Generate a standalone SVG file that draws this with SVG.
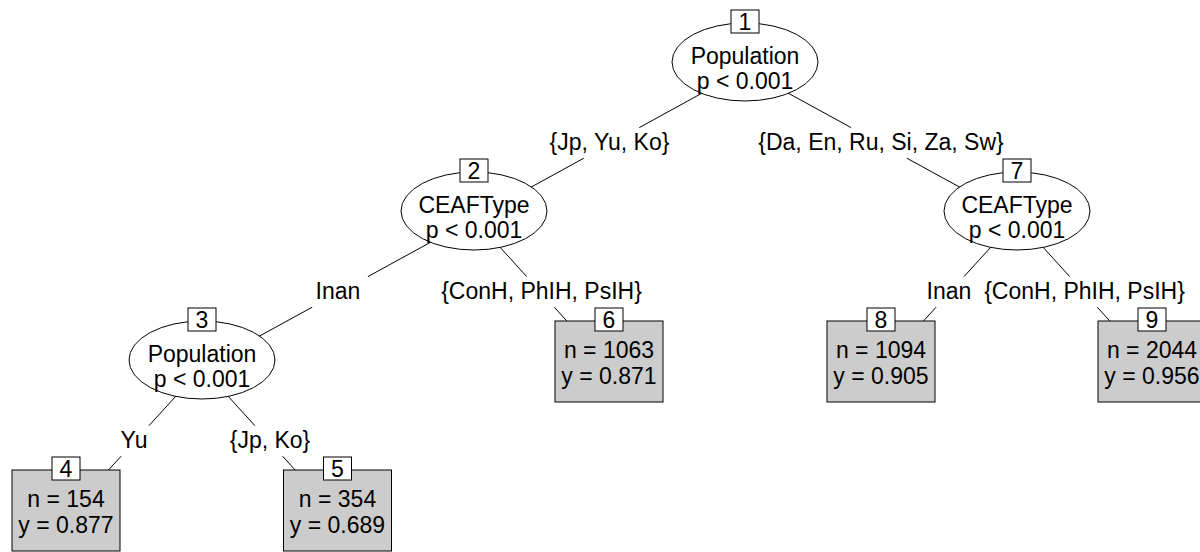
<svg xmlns="http://www.w3.org/2000/svg" width="1200" height="552" viewBox="0 0 1200 552">
<style>
text{font-family:"Liberation Sans",Arial,Helvetica,sans-serif;font-size:23px;fill:#000;text-anchor:middle}
.edge{stroke:#000;stroke-width:1;fill:none}
.inner{fill:#fff;stroke:#000;stroke-width:1}
.term{fill:#cccccc;stroke:#000;stroke-width:1}
.idbox{fill:#fff;stroke:#000;stroke-width:1}
</style>
<rect x="0" y="0" width="1200" height="552" fill="#fff"/>
<g id="connectors">
<path class="edge" d="M745,69.5 L639.3,127.6 M583.8,158.2 L474,218.5"/>
<path class="edge" d="M745,69.5 L851.1,127.6 M906.8,158.2 L1017,218.5"/>
<path class="edge" d="M474,218.5 L367.9,276.6 M312.2,307.2 L202,367.5"/>
<path class="edge" d="M474,218.5 L526.7,276.6 M554.3,307.2 L609,367.5"/>
<path class="edge" d="M1017,218.5 L964,276.6 M936.1,307.2 L881,367.5"/>
<path class="edge" d="M1017,218.5 L1069.7,276.6 M1097.3,307.2 L1152,367.5"/>
<path class="edge" d="M202,367.5 L149,425.6 M121.1,456.2 L66,516.5"/>
<path class="edge" d="M202,367.5 L254.8,425.6 M282.6,456.2 L337.5,516.5"/>
<text x="609.5" y="150">{Jp, Yu, Ko}</text>
<text x="881" y="150">{Da, En, Ru, Si, Za, Sw}</text>
<text x="338" y="299">Inan</text>
<text x="541.5" y="299">{ConH, PhIH, PsIH}</text>
<text x="949" y="299">Inan</text>
<text x="1084.5" y="299">{ConH, PhIH, PsIH}</text>
<text x="134" y="448">Yu</text>
<text x="270" y="448">{Jp, Ko}</text>
</g>
<g id="node1">
<ellipse class="inner" cx="745" cy="62" rx="73" ry="39"/>
<text x="745" y="63.5">Population</text>
<text x="745" y="88.5">p &lt; 0.001</text>
<rect class="idbox" x="731" y="10" width="28" height="23"/>
<text x="745" y="29.5">1</text>
</g>
<g id="node2">
<ellipse class="inner" cx="474" cy="211" rx="73" ry="39"/>
<text x="474" y="212.5">CEAFType</text>
<text x="474" y="237.5">p &lt; 0.001</text>
<rect class="idbox" x="460" y="159" width="28" height="23"/>
<text x="474" y="178.5">2</text>
</g>
<g id="node3">
<ellipse class="inner" cx="202" cy="360" rx="73" ry="39"/>
<text x="202" y="361.5">Population</text>
<text x="202" y="386.5">p &lt; 0.001</text>
<rect class="idbox" x="188" y="308" width="28" height="23"/>
<text x="202" y="327.5">3</text>
</g>
<g id="node4">
<rect class="term" x="12" y="470" width="108" height="81"/>
<text x="66" y="507">n = 154</text>
<text x="66" y="533">y = 0.877</text>
<rect class="idbox" x="52" y="457" width="28" height="23"/>
<text x="66" y="476.5">4</text>
</g>
<g id="node5">
<rect class="term" x="283.5" y="470" width="108" height="81"/>
<text x="337.5" y="507">n = 354</text>
<text x="337.5" y="533">y = 0.689</text>
<rect class="idbox" x="323.5" y="457" width="28" height="23"/>
<text x="337.5" y="476.5">5</text>
</g>
<g id="node6">
<rect class="term" x="555" y="321" width="108" height="81"/>
<text x="609" y="358">n = 1063</text>
<text x="609" y="384">y = 0.871</text>
<rect class="idbox" x="595" y="308" width="28" height="23"/>
<text x="609" y="327.5">6</text>
</g>
<g id="node7">
<ellipse class="inner" cx="1017" cy="211" rx="73" ry="39"/>
<text x="1017" y="212.5">CEAFType</text>
<text x="1017" y="237.5">p &lt; 0.001</text>
<rect class="idbox" x="1003" y="159" width="28" height="23"/>
<text x="1017" y="178.5">7</text>
</g>
<g id="node8">
<rect class="term" x="827" y="321" width="108" height="81"/>
<text x="881" y="358">n = 1094</text>
<text x="881" y="384">y = 0.905</text>
<rect class="idbox" x="867" y="308" width="28" height="23"/>
<text x="881" y="327.5">8</text>
</g>
<g id="node9">
<rect class="term" x="1098" y="321" width="108" height="81"/>
<text x="1152" y="358">n = 2044</text>
<text x="1152" y="384">y = 0.956</text>
<rect class="idbox" x="1138" y="308" width="28" height="23"/>
<text x="1152" y="327.5">9</text>
</g>
</svg>
